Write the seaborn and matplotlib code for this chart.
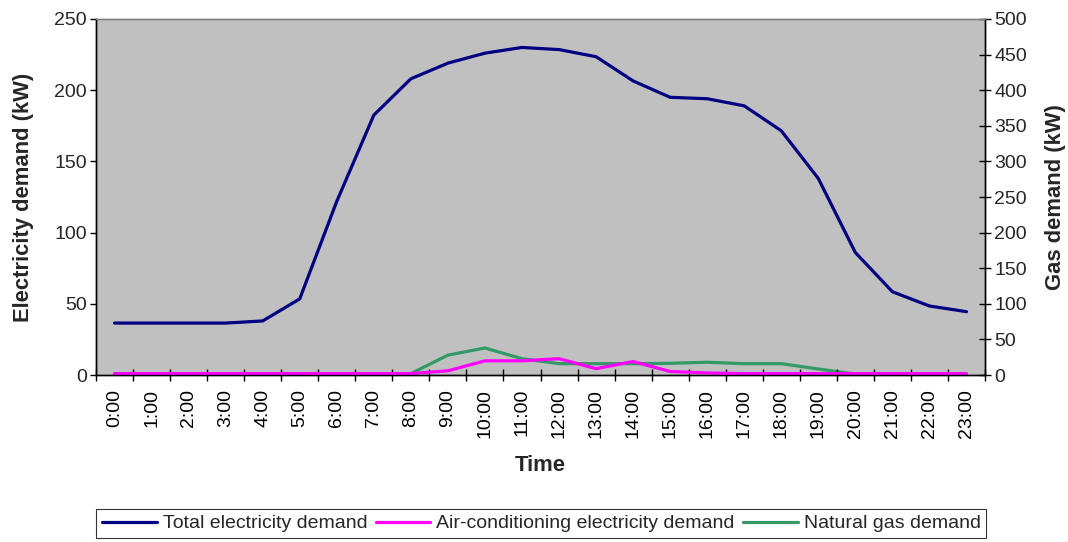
import numpy as np
import pandas as pd
import matplotlib
matplotlib.use("Agg")
import matplotlib.pyplot as plt
import seaborn as sns
from matplotlib.ticker import FixedLocator, MultipleLocator

hours = [f"{h}:00" for h in range(24)]
total_elec = [36.5, 36.5, 36.5, 36.5, 38, 53.5, 122, 182.5, 208, 219, 226, 230,
              228.5, 223.5, 206.5, 195, 194, 189, 171.5, 138, 86, 58.5, 48.5, 44.5]
ac_elec = [1, 1, 1, 1, 1, 1, 1, 1, 1, 3, 10, 10,
           11.5, 4.5, 9.5, 2.5, 1.5, 1, 1, 1, 1, 1, 1, 1]
gas = [2, 2, 2, 2, 2, 2, 2, 2, 2, 28, 38, 23,
       16, 16, 16, 16.5, 18, 16, 16, 8.5, 1.5, 1.5, 1.5, 1.5]

series_names = ["Total electricity demand", "Air-conditioning electricity demand",
                "Natural gas demand"]
colors = ["#000080", "#FF00FF", "#339966"]

sns.set_theme(style="white")
plt.rcParams["font.family"] = ["Liberation Sans", "DejaVu Sans"]

x = np.arange(len(hours))
elec_df = pd.DataFrame({"x": np.concatenate([x, x]),
                        "value": total_elec + ac_elec,
                        "series": [series_names[0]] * 24 + [series_names[1]] * 24})
gas_df = pd.DataFrame({"x": x, "value": gas, "series": series_names[2]})

fig = plt.figure(figsize=(10.68, 5.42), dpi=100)
ax = fig.add_axes([0.0899, 0.308, 0.8324, 0.657])
lw = 2.3

# electricity on the primary axis, gas on the secondary axis
sns.lineplot(data=elec_df, x="x", y="value", hue="series",
             palette=colors[:2], linewidth=lw, ax=ax, legend=False)
ax2 = ax.twinx()
sns.lineplot(data=gas_df, x="x", y="value", hue="series",
             palette=colors[2:], linewidth=lw, ax=ax2, legend=False)

# electricity lines sit above the gas line; grey plot area comes from the twin
ax.set_zorder(ax2.get_zorder() + 1)
ax.patch.set_visible(False)
ax2.patch.set_visible(True)
ax2.set_facecolor("#C0C0C0")

ax.set_xlim(-0.5, 23.5)
ax.set_ylim(0, 250)
ax2.set_ylim(0, 500)
ax.yaxis.set_major_locator(MultipleLocator(50))
ax2.yaxis.set_major_locator(MultipleLocator(50))

tick_fs = 14
ax.set_xticks(x)
ax.set_xticklabels(hours, rotation=90)
ax.xaxis.set_minor_locator(FixedLocator(np.arange(-0.5, 24, 1)))
ax.tick_params(axis="x", which="major", length=0, pad=10, labelsize=tick_fs,
               colors="black")
ax.tick_params(axis="x", which="minor", direction="inout", length=8.5, width=1,
               color="black", bottom=True)
ax.tick_params(axis="y", which="major", direction="out", length=4.5, width=1,
               color="black", labelsize=tick_fs, left=True, pad=2)
ax2.tick_params(axis="y", which="major", direction="inout", length=9, width=1,
                color="black", labelsize=tick_fs, right=True, pad=2)

label_fs = 15.8
ax.set_xlabel("Time", fontsize=label_fs, fontweight="bold", labelpad=12)
ax.set_ylabel("Electricity demand (kW)", fontsize=label_fs, fontweight="bold")
ax2.set_ylabel("Gas demand (kW)", fontsize=label_fs, fontweight="bold")
ax.yaxis.set_label_coords(-0.070, 0.5)
ax2.yaxis.set_label_coords(1.068, 0.5)

for a in (ax, ax2):
    for side in ("left", "bottom", "right"):
        a.spines[side].set_color("black")
        a.spines[side].set_linewidth(1)
    a.spines["top"].set_color("#808080")
    a.spines["top"].set_linewidth(1)

handles = [plt.Line2D([], [], color=c, linewidth=lw) for c in colors]
leg = fig.legend(handles, series_names, loc="center", ncol=3,
                 bbox_to_anchor=(0.507, 0.034), frameon=True, fancybox=False,
                 fontsize=14, handlelength=2.8, handletextpad=0.3,
                 columnspacing=0.45, borderpad=0.3, borderaxespad=0)
leg.get_frame().set_edgecolor("black")
leg.get_frame().set_linewidth(0.8)

fig.savefig("out.png", dpi=100, facecolor="white")
